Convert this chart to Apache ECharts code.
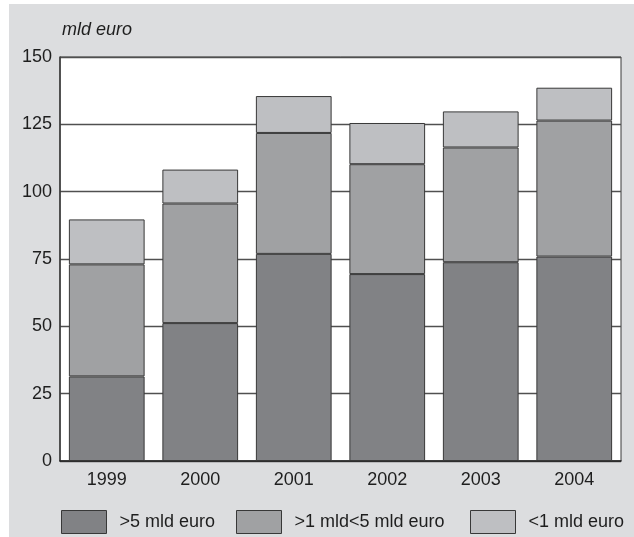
<!DOCTYPE html>
<html>
<head>
<meta charset="utf-8">
<style>
  html, body { margin: 0; padding: 0; background: #ffffff; }
  #chart { width: 634px; height: 537px; }
</style>
<script src="https://cdn.jsdelivr.net/npm/echarts@6/dist/echarts.min.js"></script>
</head>
<body>
<div id="chart"></div>
<script>
// Years on the category axis
const years = ['1999', '2000', '2001', '2002', '2003', '2004'];

// Stacked amounts, mld euro, by size class
const seriesNames = ['>5 mld euro', '>1 mld<5 mld euro', '<1 mld euro'];
const over5 = [31.4, 51.2, 76.9, 69.4, 73.8, 75.9];
const from1to5 = [41.6, 44.4, 44.9, 40.8, 42.6, 50.5];
const under1 = [16.7, 12.6, 13.7, 15.3, 13.4, 12.2];

// Value axis
const yTicks = [0, 25, 50, 75, 100, 125, 150];
const unitLabel = 'mld euro';

const colors = ['#818285', '#a0a1a3', '#bebfc2'];
const font = '"Liberation Sans", Arial, sans-serif';
const textColor = '#1e1e1e';

const chart = echarts.init(document.getElementById('chart'), null, { renderer: 'canvas' });

const values = [over5, from1to5, under1];
const series = seriesNames.map((name, i) => ({
  name: name,
  type: 'bar',
  stack: 'total',
  data: values[i],
  barWidth: '81%',
  itemStyle: { color: colors[i], borderColor: '#383838', borderWidth: 1 },
  emphasis: { disabled: true }
}));

// One legend box per entry so each sits at its own offset
const legendLeft = [61, 236, 470];
const legends = seriesNames.map((name, i) => ({
  data: [name],
  left: legendLeft[i],
  top: 510,
  padding: 0,
  orient: 'horizontal',
  itemWidth: 45,
  itemHeight: 23,
  icon: 'rect',
  selectedMode: false,
  itemStyle: { borderColor: '#383838', borderWidth: 1 },
  textStyle: { fontFamily: font, fontSize: 18, color: textColor, padding: [0, 0, 0, 8] }
}));

chart.setOption({
  animation: false,
  backgroundColor: '#ffffff',
  graphic: [
    {
      type: 'rect',
      z: -10,
      silent: true,
      shape: { x: 9, y: 4, width: 625, height: 533 },
      style: { fill: '#dcdddf' }
    },
    {
      type: 'text',
      left: 62,
      top: 21,
      silent: true,
      style: {
        text: unitLabel,
        fontFamily: font,
        fontSize: 18,
        fontStyle: 'italic',
        fill: textColor
      }
    }
  ],
  legend: legends,
  grid: {
    left: 60,
    right: 13,
    top: 57,
    bottom: 76,
    show: true,
    backgroundColor: '#ffffff',
    borderColor: '#3a3a3a',
    borderWidth: 1
  },
  xAxis: {
    type: 'category',
    data: years,
    axisLine: { show: true, lineStyle: { color: '#222222', width: 1.5 } },
    axisTick: { show: false },
    axisLabel: { fontFamily: font, fontSize: 18, color: textColor, margin: 10 }
  },
  yAxis: {
    type: 'value',
    min: yTicks[0],
    max: yTicks[yTicks.length - 1],
    interval: yTicks[1] - yTicks[0],
    axisLine: { show: true, lineStyle: { color: '#3a3a3a', width: 1.5 } },
    axisTick: { show: false },
    axisLabel: { fontFamily: font, fontSize: 18, color: textColor, margin: 8 },
    splitLine: { show: true, lineStyle: { color: '#505050', width: 1.3 } }
  },
  series: series
});
</script>
</body>
</html>
